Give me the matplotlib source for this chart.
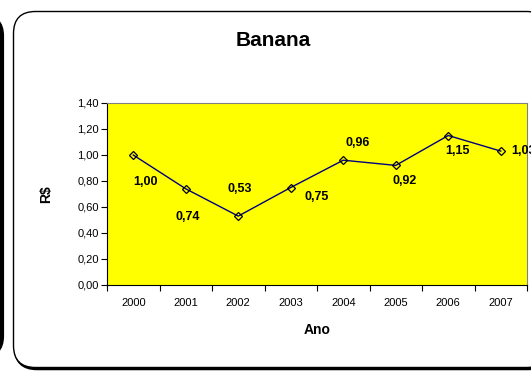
import matplotlib.pyplot as plt
from matplotlib.patches import FancyBboxPatch

plt.rcParams['font.family'] = ['Liberation Sans', 'DejaVu Sans']

anos = ["2000", "2001", "2002", "2003", "2004", "2005", "2006", "2007"]
precos = [1.00, 0.74, 0.53, 0.75, 0.96, 0.92, 1.15, 1.03]
yticks = [0.0, 0.2, 0.4, 0.6, 0.8, 1.0, 1.2, 1.4]

# deslocamento (px) de cada rotulo em relacao ao ponto
offsets = [(12, -27), (2, -28), (2, 27), (26, -10), (14, 17), (9, -16), (9, -15), (11, 0)]

W, H = 531, 371
fig = plt.figure(figsize=(W / 100, H / 100), dpi=100)

# fundo em pixels: moldura arredondada do grafico
bg = fig.add_axes([0, 0, 1, 1])
bg.set_xlim(0, W)
bg.set_ylim(H, 0)
bg.axis("off")

# borda do grafico vizinho (lado esquerdo)
bg.add_patch(FancyBboxPatch((-300, 16), 302, 340, boxstyle="round,pad=0,rounding_size=20",
                            fc="white", ec="black", lw=3.0))
# sombra + moldura
bg.add_patch(FancyBboxPatch((15, 13), 535, 356, boxstyle="round,pad=0,rounding_size=22",
                            fc="white", ec="black", lw=1.8))
bg.add_patch(FancyBboxPatch((13.5, 11.5), 535, 356, boxstyle="round,pad=0,rounding_size=22",
                            fc="white", ec="black", lw=1.0))

ax = fig.add_axes([107 / W, 1 - 285 / H, 420 / W, 182 / H])
ax.set_facecolor("#FFFF00")

x = list(range(len(anos)))
ax.plot(x, precos, color="#000080", lw=1, marker="D", ms=4.5,
        mfc="none", mec="black", mew=0.9)

for i, v in enumerate(precos):
    dx, dy = offsets[i]
    ax.annotate(f"{v:.2f}".replace(".", ","), (i, v), xytext=(dx, dy),
                textcoords="offset pixels", ha="left" if i == 7 else "center",
                va="center", fontsize=9, fontweight="bold", annotation_clip=False)

ax.set_xlim(-0.5, len(anos) - 0.5)
ax.set_ylim(0, 1.4)
ax.set_xticks(x)
ax.set_xticklabels(anos, fontsize=8)
ax.set_xticks([i - 0.5 for i in range(len(anos) + 1)], minor=True)
ax.tick_params(axis="x", which="major", length=0, pad=9)
ax.tick_params(axis="x", which="minor", length=4, width=0.8, direction="out")
ax.set_yticks(yticks)
ax.set_yticklabels([f"{t:.2f}".replace(".", ",") for t in yticks], fontsize=8)
ax.tick_params(axis="y", length=4, width=0.8, direction="out", pad=2)

for s in ["top", "right"]:
    ax.spines[s].set_color("#808080")
    ax.spines[s].set_linewidth(0.8)
for s in ["left", "bottom"]:
    ax.spines[s].set_color("black")
    ax.spines[s].set_linewidth(0.8)

ax.set_xlabel("Ano", fontsize=10, fontweight="bold", labelpad=11)
ax.set_ylabel("R$", fontsize=10, fontweight="bold", labelpad=17)
fig.text(273 / W, 1 - 40 / H, "Banana", ha="center", va="center",
         fontsize=15, fontweight="bold")

fig.savefig("out.png", dpi=100)
